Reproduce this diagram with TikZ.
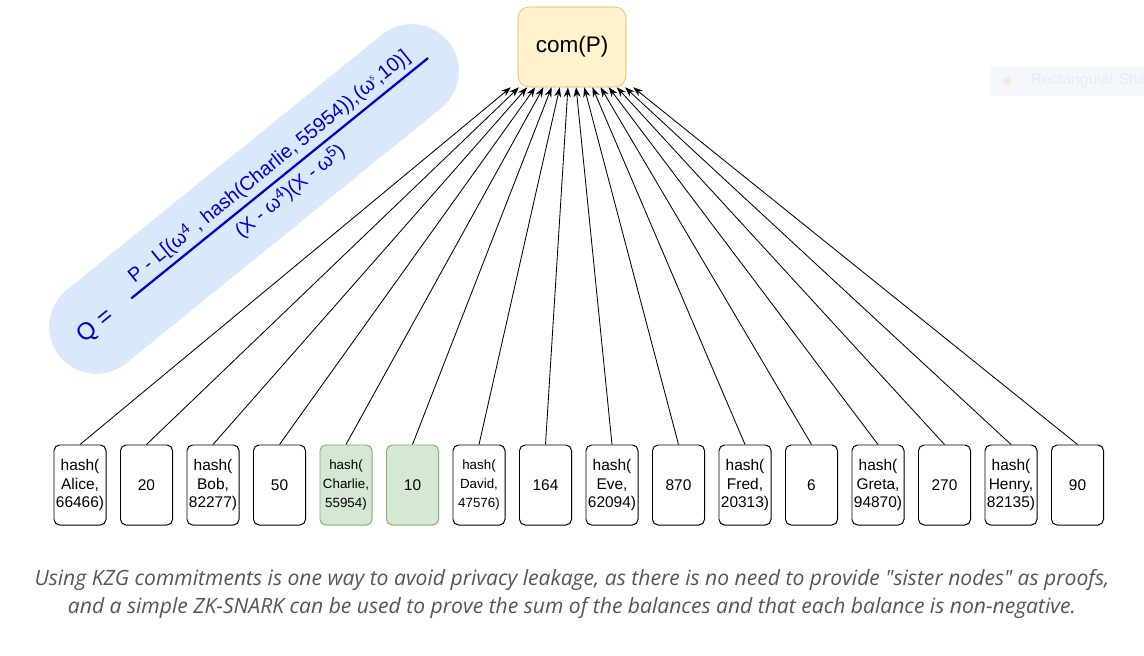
\documentclass[tikz,border=0pt]{standalone}
\usepackage{fontspec}
\setmainfont{Liberation Sans}
\newfontfamily\notefont{Open Sans}
\usetikzlibrary{arrows.meta}

\definecolor{comfill}{HTML}{FFF2CC}
\definecolor{comline}{HTML}{D6B656}
\definecolor{prooffill}{HTML}{D5E8D4}
\definecolor{proofline}{HTML}{82B366}
\definecolor{bubblefill}{HTML}{DAE8FC}
\definecolor{formulablue}{HTML}{0000CC}
\definecolor{notegray}{HTML}{555555}
\definecolor{ghostfill}{HTML}{F4F8FD}
\definecolor{ghostdot}{HTML}{F0EAE3}
\definecolor{ghosttext}{HTML}{E6ECF2}

\newcommand{\upidx}[1]{\raisebox{0.55ex}{\fontsize{10.5}{11}\selectfont #1}}

\tikzset{
  leaf/.style={draw, line width=0.7pt, rounded corners=4pt, minimum width=1.3cm,
    minimum height=2cm, inner sep=1pt, align=center, font=\fontsize{11}{13.5}\selectfont},
  smallleaf/.style={leaf, font=\fontsize{9.5}{13.5}\selectfont},
  proofleaf/.style={leaf, fill=prooffill, draw=proofline},
  proofhash/.style={smallleaf, fill=prooffill, draw=proofline},
  commit/.style={draw=comline, fill=comfill, rounded corners=8pt, minimum width=2.7cm,
    minimum height=2cm, font=\fontsize{16}{19}\selectfont},
  fan/.style={-{Stealth[length=7pt,width=5pt]}, line width=0.6pt},
  formula/.style={text=formulablue, font=\fontsize{14}{16}\selectfont, inner sep=1pt},
  note/.style={text=notegray, align=center, font=\notefont\itshape\fontsize{15}{20}\selectfont}
}

\begin{document}
\begin{tikzpicture}[x=0.025cm, y=0.025cm]
  \useasboundingbox (0,0) rectangle (1144,-656);

  % commitment
  \node[commit] (com) at (572,-47) {com(P)};

  % leaves: hashed user / balance
  \foreach \t/\s [count=\i] in {{hash(\\Alice,\\66466)}/leaf, 20/leaf,
      {hash(\\Bob,\\82277)}/leaf, 50/leaf, {hash(\\Charlie,\\55954)}/proofhash, 10/proofleaf,
      {hash(\\David,\\47576)}/smallleaf, 164/leaf, {hash(\\Eve,\\62094)}/leaf, 870/leaf,
      {hash(\\Fred,\\20313)}/leaf, 6/leaf, {hash(\\Greta,\\94870)}/leaf, 270/leaf,
      {hash(\\Henry,\\82135)}/leaf, 90/leaf}
    \node[\s] (leaf\i) at ({80+(\i-1)*66.5},-485) {\t};

  \foreach \i in {1,...,16}
    \draw[fan] (leaf\i.north) -- ([xshift={(\i-8.5)*5.8pt}]com.south);

  % quotient
  \begin{scope}[shift={(254,-199)}, rotate=39, transform shape]
    \node[fill=bubblefill, rounded corners=1.18cm, minimum width=12.5cm,
      minimum height=2.36cm] (bubble) at (0,0) {};
    \node[formula, font=\fontsize{17}{19}\selectfont] (q) at (-203,0) {Q =};
    \draw[formulablue, line width=1.6pt] (-158,0) -- (224,0);
    \node[formula, anchor=south] (num) at (32,4)
      {P - L[(ω\upidx{4} , hash(Charlie, 55954)),(ω\textsuperscript{\tiny 5},10)]};
    \node[formula, anchor=north] (den) at (33,-5)
      {(X - ω\upidx{4})(X - ω\upidx{5})};
  \end{scope}

  % leftover shape label
  \begin{scope}
    \clip (990,-60) rectangle (1144,-100);
    \fill[ghostfill] (990,-66) rectangle (1144,-96);
    \fill[ghostdot] (1007,-81) circle (3pt);
    \node[anchor=west, text=ghosttext, font=\fontsize{11}{13}\selectfont] (ghost) at (1026,-81) {Rectangular Shape};
  \end{scope}

  \node[note] (caption) at (572,-594) {Using KZG commitments is one way to avoid privacy leakage, as there is no need to provide "sister nodes" as proofs,\\
    and a simple ZK-SNARK can be used to prove the sum of the balances and that each balance is non-negative.};
\end{tikzpicture}
\end{document}
